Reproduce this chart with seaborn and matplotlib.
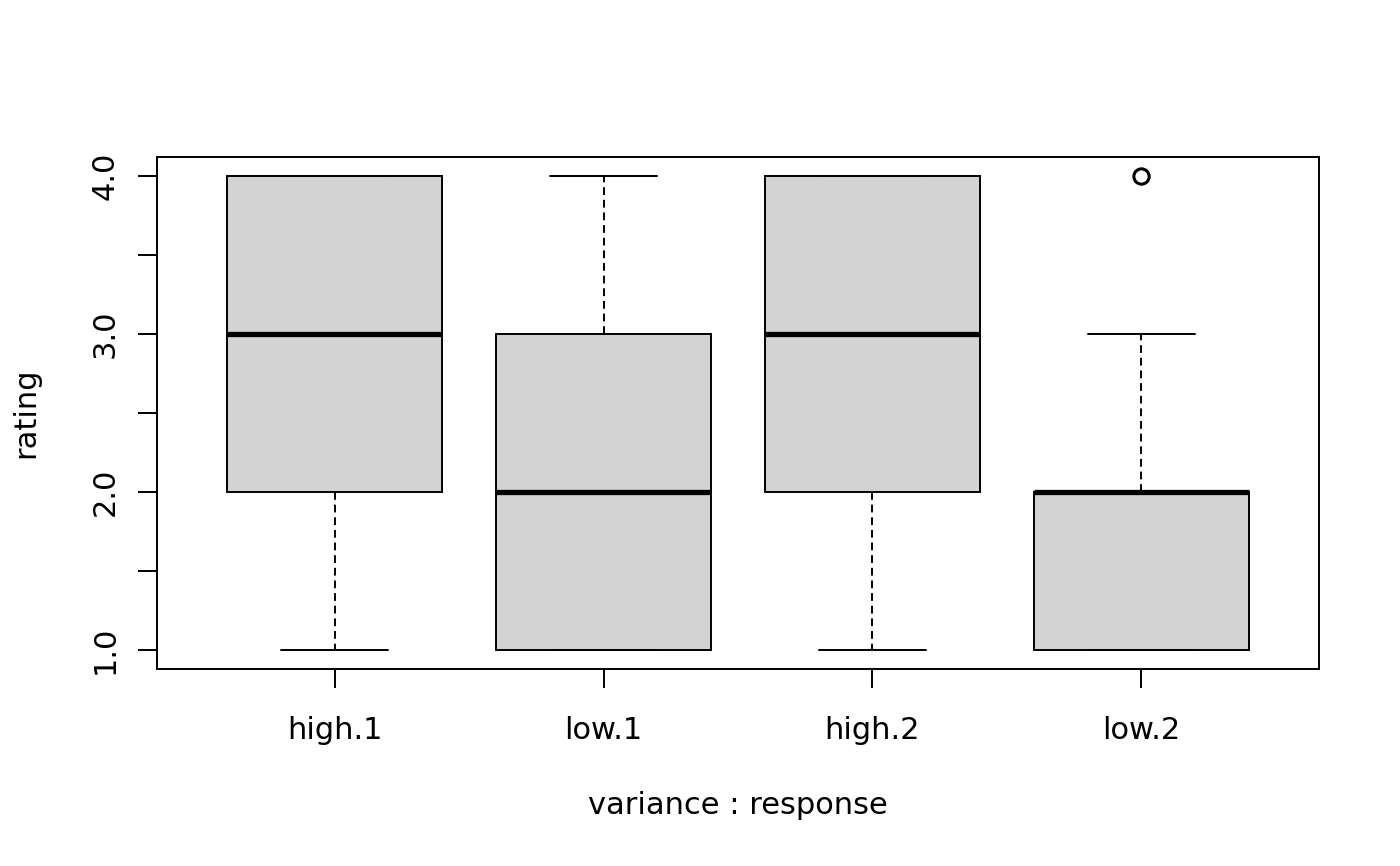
import matplotlib
matplotlib.use("Agg")
import matplotlib.pyplot as plt
import seaborn as sns
import pandas as pd

groups = ["high.1", "low.1", "high.2", "low.2"]
high_1 = [1, 2, 2, 3, 3, 3, 4, 4, 4]
low_1 = [1, 1, 1, 2, 2, 2, 3, 3, 4]
high_2 = [1, 2, 2, 3, 3, 3, 4, 4, 4]
low_2 = [1, 1, 1, 2, 2, 2, 2, 3, 4]
y_ticks = [1.0, 1.5, 2.0, 2.5, 3.0, 3.5, 4.0]
y_labels = ["1.0", "", "2.0", "", "3.0", "", "4.0"]

rows = []
for g, vals in zip(groups, [high_1, low_1, high_2, low_2]):
    for v in vals:
        rows.append({"group": g, "rating": v})
df = pd.DataFrame(rows)

sns.set_theme(style="white")
plt.rcParams["font.family"] = ["DejaVu Sans"]

fig = plt.figure(figsize=(14, 8.66), dpi=100)
pos = [157 / 1400, (866 - 669) / 866, (1319 - 157) / 1400, (669 - 157) / 866]
ax = fig.add_axes(pos)

lw = 1.4
sns.boxplot(data=df, x="group", y="rating", order=groups, ax=ax,
            color="#D3D3D3", width=0.8, whis=1.5, linecolor="black",
            linewidth=lw, saturation=1,
            medianprops={"linewidth": 3.8, "color": "black"},
            whiskerprops={"linestyle": (0, (4, 2.5)), "linewidth": lw},
            capprops={"linewidth": lw},
            flierprops={"marker": "o", "markerfacecolor": "none",
                        "markeredgecolor": "black", "markersize": 11,
                        "markeredgewidth": 2.2})

ax.set_yticks(y_ticks)
ax.set_yticklabels(y_labels, rotation=90, va="center", fontsize=22)
ax.set_xticks(range(len(groups)))
ax.set_xticklabels(groups, fontsize=22)
ax.tick_params(axis="both", which="both", direction="out", length=14,
               width=lw, color="black", labelcolor="black",
               left=True, bottom=True)
ax.tick_params(axis="x", pad=20)
ax.tick_params(axis="y", pad=13)
for s in ax.spines.values():
    s.set_color("black")
    s.set_linewidth(lw)
    s.set_visible(True)
ax.set_xlabel("variance : response", fontsize=22, labelpad=33, color="black")
ax.set_ylabel("rating", fontsize=22, labelpad=36, color="black")

ax.set_xlim(-0.66, 3.66)
ax.set_ylim(0.88, 4.12)
ax.set_position(pos)

fig.savefig("out.png", dpi=100)
